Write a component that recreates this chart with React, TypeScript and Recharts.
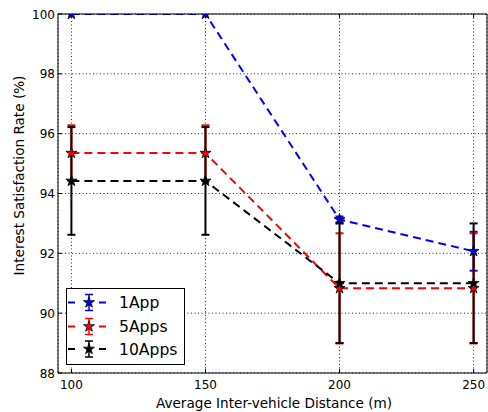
import React from 'react';
import {
  LineChart,
  Line,
  XAxis,
  YAxis,
  CartesianGrid,
  ErrorBar,
  Legend,
} from 'recharts';

// inter-vehicle distance (m)
const distances = [100, 150, 200, 250];

// interest satisfaction rate (%) and error per scenario
const oneApp = [100, 100, 93.13, 92.07];
const oneAppErr = [0, 0, 0.1, 0.65];
const fiveApps = [95.35, 95.35, 90.83, 90.83];
const fiveAppsErr = [0.93, 0.93, 1.84, 1.84];
const tenApps = [94.42, 94.42, 91.0, 91.0];
const tenAppsErr = [1.8, 1.8, 2.0, 2.0];

const xTicks = [100, 150, 200, 250];
const yTicks = [88, 90, 92, 94, 96, 98, 100];

const FONT = '"DejaVu Sans", sans-serif';

const series = [
  { key: 'app1', err: 'err1', name: '1App', color: '#0000ff' },
  { key: 'app5', err: 'err5', name: '5Apps', color: '#ff0000' },
  { key: 'app10', err: 'err10', name: '10Apps', color: '#000000' },
];

const data = distances.map((x, i) => ({
  x,
  app1: oneApp[i],
  err1: oneAppErr[i],
  app5: fiveApps[i],
  err5: fiveAppsErr[i],
  app10: tenApps[i],
  err10: tenAppsErr[i],
}));

function starPoints(cx: number, cy: number, r: number) {
  const pts: string[] = [];
  for (let k = 0; k < 10; k++) {
    const rad = k % 2 === 0 ? r : r * 0.382;
    const a = -Math.PI / 2 + (k * Math.PI) / 5;
    pts.push(`${cx + rad * Math.cos(a)},${cy + rad * Math.sin(a)}`);
  }
  return pts.join(' ');
}

const starDot = (color: string) => (props: any) => {
  const { cx, cy, index } = props;
  if (cx == null || cy == null) return <g key={`s-${index}`} />;
  return (
    <polygon
      key={`s-${index}`}
      points={starPoints(cx, cy, 5.8)}
      fill={color}
      stroke="#000"
      strokeWidth={0.8}
    />
  );
};

// ticks point inward, like a matplotlib frame
const BottomTick = (props: any) => {
  const { x, y, payload } = props;
  return (
    <g>
      <line x1={x} y1={y} x2={x} y2={y - 4} stroke="#000" />
      <text x={x} y={y + 15.5} textAnchor="middle" fontSize={12} fontFamily={FONT} fill="#000">
        {payload.value}
      </text>
    </g>
  );
};

const TopTick = (props: any) => {
  const { x, y } = props;
  return <line x1={x} y1={y} x2={x} y2={y + 4} stroke="#000" />;
};

const LeftTick = (props: any) => {
  const { x, y, payload } = props;
  return (
    <g>
      <line x1={x} y1={y} x2={x + 4} y2={y} stroke="#000" />
      <text x={x - 3} y={y + 4.5} textAnchor="end" fontSize={12} fontFamily={FONT} fill="#000">
        {payload.value}
      </text>
    </g>
  );
};

const RightTick = (props: any) => {
  const { x, y } = props;
  return <line x1={x} y1={y} x2={x - 4} y2={y} stroke="#000" />;
};

const LegendBox = () => {
  const rows = [14.5, 38.5, 61];
  return (
    <svg width={119} height={77} style={{ display: 'block' }}>
      <rect x={0.5} y={0.5} width={118} height={76} fill="#fff" stroke="#000" />
      {series.map((s, i) => {
        const cy = rows[i];
        return (
          <g key={s.key}>
            <line x1={2} y1={cy} x2={9} y2={cy} stroke={s.color} strokeWidth={2} />
            <line x1={33} y1={cy} x2={40} y2={cy} stroke={s.color} strokeWidth={2} />
            <line x1={23} y1={cy - 8} x2={23} y2={cy + 8} stroke={s.color} strokeWidth={1.5} />
            <line x1={19} y1={cy - 8} x2={27} y2={cy - 8} stroke={s.color} strokeWidth={1.5} />
            <line x1={19} y1={cy + 8} x2={27} y2={cy + 8} stroke={s.color} strokeWidth={1.5} />
            <polygon points={starPoints(23, cy, 5.8)} fill={s.color} stroke="#000" strokeWidth={0.8} />
            <text x={53} y={cy + 5.5} fontSize={15.6} fontFamily={FONT} fill="#000">
              {s.name}
            </text>
          </g>
        );
      })}
    </svg>
  );
};

export default function App() {
  return (
    <div style={{ position: 'absolute', left: 0, top: 0, background: '#fff' }}>
      <LineChart width={488} height={412} data={data} margin={{ top: 13, right: 0, bottom: 0, left: 0 }}>
        <CartesianGrid stroke="#222" strokeDasharray="1 2.5" />
        <XAxis
          dataKey="x"
          type="number"
          domain={[95, 255]}
          ticks={xTicks}
          height={39}
          tickSize={0}
          tickMargin={0}
          tickLine={false}
          tick={<BottomTick />}
          axisLine={{ stroke: '#000' }}
          label={(p: any) => {
            const vb = p.viewBox ?? { x: 58, y: 373, width: 429, height: 39 };
            return (
              <text x={vb.x + vb.width / 2 + 1.5} y={vb.y + 35} textAnchor="middle" fontSize={13.6} fontFamily={FONT} fill="#000">
                Average Inter-vehicle Distance (m)
              </text>
            );
          }}
        />
        <XAxis
          xAxisId="top"
          orientation="top"
          dataKey="x"
          type="number"
          domain={[95, 255]}
          ticks={xTicks}
          height={1}
          tickSize={0}
          tickMargin={0}
          tickLine={false}
          tick={<TopTick />}
          axisLine={{ stroke: '#000' }}
        />
        <YAxis
          type="number"
          domain={[88, 100]}
          ticks={yTicks}
          allowDataOverflow
          width={58}
          tickSize={0}
          tickMargin={0}
          tickLine={false}
          tick={<LeftTick />}
          axisLine={{ stroke: '#000' }}
          label={(p: any) => {
            const vb = p.viewBox ?? { x: 0, y: 14, width: 58, height: 359 };
            const cx = vb.x + 19;
            const cy = vb.y + vb.height / 2 - 18;
            return (
              <text
                x={cx}
                y={cy}
                transform={`rotate(-90, ${cx}, ${cy})`}
                textAnchor="middle"
                dominantBaseline="central"
                fontSize={13.6}
                fontFamily={FONT}
                fill="#000"
              >
                Interest Satisfaction Rate (%)
              </text>
            );
          }}
        />
        <YAxis
          yAxisId="right"
          orientation="right"
          type="number"
          domain={[88, 100]}
          ticks={yTicks}
          width={1}
          tickSize={0}
          tickMargin={0}
          tickLine={false}
          tick={<RightTick />}
          axisLine={{ stroke: '#000' }}
        />
        {series.map((s) => (
          <Line
            key={s.key}
            dataKey={s.key}
            name={s.name}
            stroke={s.color}
            strokeWidth={2}
            strokeDasharray="8 5"
            dot={starDot(s.color)}
            activeDot={false}
            isAnimationActive={false}
          >
            <ErrorBar
              dataKey={s.err}
              direction="y"
              width={4}
              stroke={s.color}
              strokeWidth={2}
              isAnimationActive={false}
            />
          </Line>
        ))}
        <Legend
          layout="vertical"
          align="center"
          verticalAlign="middle"
          wrapperStyle={{ left: 66, top: 288, width: 119 }}
          content={() => <LegendBox />}
        />
      </LineChart>
    </div>
  );
}
